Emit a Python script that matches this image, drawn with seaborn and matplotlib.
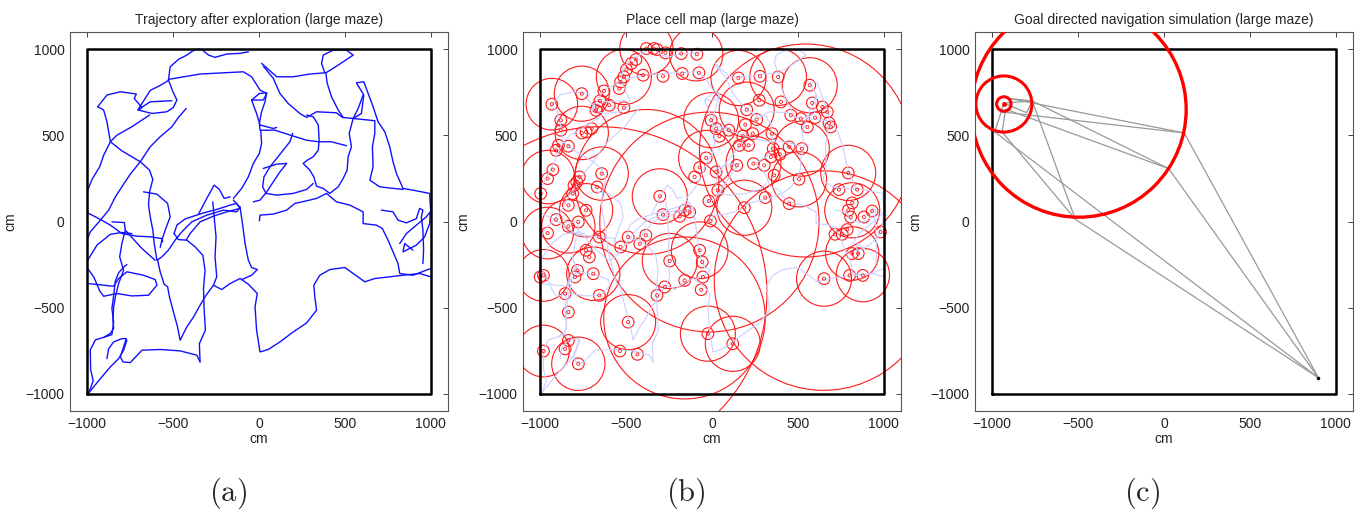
import numpy as np
import pandas as pd
import matplotlib
matplotlib.use("Agg")
import matplotlib.pyplot as plt
from matplotlib.patches import Circle
import seaborn as sns

sns.set_style("white")
plt.rcParams['font.family'] = ['Liberation Sans', 'DejaVu Sans']
plt.rcParams['mathtext.fontset'] = 'cm'

# maze boundary (cm)
MAZE_X = [-1000, 1000, 1000, -1000, -1000]
MAZE_Y = [-1000, -1000, 1000, 1000, -1000]
TICKS = [-1000, -500, 0, 500, 1000]

# ── exploration trajectory, traced as strokes (cm) ───────────────────────────
TRAJ_1 = [(-939, 666), (-885, 734), (-807, 753), (-714, 740), (-726, 714), (-681, 662), (-701, 647),
          (-623, 627), (-536, 637), (-498, 662), (-478, 705), (-501, 753), (-527, 821), (-517, 898),
          (-469, 941), (-420, 966), (-372, 999), (-333, 999), (-294, 966), (-256, 953), (-188, 972),
          (-110, 976), (-62, 985)]
TRAJ_2 = [(-527, 825), (-343, 856), (-91, 869), (-43, 840), (6, 763), (45, 743), (25, 705), (-43, 705),
          (-14, 627), (6, 560), (83, 540), (103, 546)]
TRAJ_3 = [(-939, 666), (-904, 647), (-885, 579), (-875, 521), (-865, 463), (-798, 410), (-691, 347),
          (-637, 298), (-618, 244), (-637, 172), (-643, 95), (-633, 27), (-618, -50), (-610, -128),
          (-594, -225), (-565, -205), (-527, -166), (-488, -108), (-449, -60), (-391, -2), (-304, 37),
          (-207, 66), (-130, 56), (-110, 85)]
TRAJ_4 = [(-424, 656), (-469, 604), (-507, 550), (-575, 492), (-633, 434), (-691, 347), (-749, 275),
          (-788, 217), (-836, 143), (-875, 66), (-923, 8), (-982, -60), (-997, -99)]
TRAJ_5 = [(-637, 618), (-740, 550), (-827, 501), (-865, 463), (-904, 385), (-927, 318), (-972, 244),
          (-997, 182)]
TRAJ_6 = [(-997, 50), (-923, 12), (-865, -21), (-798, -70), (-711, -85), (-633, -89), (-565, -99),
          (-560, -118)]
TRAJ_7 = [(-997, -225), (-943, -137), (-865, -74), (-798, -64), (-740, -70)]
TRAJ_8 = [(-997, -360), (-846, -376), (-817, -331), (-769, -292), (-672, -312), (-604, -337),
          (-594, -370), (-643, -428), (-740, -432), (-827, -418), (-904, -434), (-927, -403),
          (-962, -321), (-997, -273)]
TRAJ_9 = [(-856, -2), (-784, -6), (-778, -50), (-798, -128), (-811, -205), (-788, -283), (-817, -360),
          (-836, -438), (-846, -496), (-850, -573), (-846, -620), (-865, -650), (-900, -670)]
TRAJ_10 = [(-672, 172), (-594, 159), (-532, 105), (-517, 27), (-546, -50), (-565, -108), (-575, -150)]
TRAJ_11 = [(-590, -225), (-575, -292), (-552, -364), (-532, -379), (-521, -438), (-498, -525),
           (-474, -612), (-459, -689), (-420, -612), (-381, -554), (-343, -486), (-308, -428),
           (-265, -370)]
TRAJ_12 = [(-420, -108), (-372, -147), (-327, -196), (-314, -283), (-323, -389), (-320, -496),
           (-312, -631), (-347, -709), (-343, -815)]
TRAJ_13 = [(-885, -796), (-875, -738), (-846, -699), (-798, -680), (-772, -680), (-788, -728),
           (-807, -786), (-792, -815), (-749, -819), (-681, -747), (-575, -743), (-459, -751),
           (-362, -776), (-343, -815)]
TRAJ_14 = [(-991, -995), (-923, -912), (-865, -844), (-817, -796), (-788, -747), (-769, -689)]
TRAJ_15 = [(-991, -995), (-965, -925), (-980, -860), (-982, -745), (-952, -687), (-895, -670),
           (-856, -656), (-846, -585), (-856, -505), (-846, -430), (-836, -345), (-817, -298),
           (-788, -265), (-769, -250)]
TRAJ_16 = [(-265, -370), (-217, -395), (-168, -360), (-110, -331), (-62, -364), (-10, -418),
           (-23, -496), (-14, -631), (6, -757), (54, -743), (122, -699), (199, -641), (277, -589),
           (335, -515), (325, -438), (319, -370), (354, -312), (412, -279), (500, -267), (548, -302),
           (616, -350), (674, -331), (761, -321), (838, -312), (935, -302), (999, -321)]
TRAJ_17 = [(-149, 124), (-110, 81), (-95, -21), (-81, -128), (-62, -225), (-43, -267), (-10, -279),
           (-43, -312), (-101, -337)]
TRAJ_18 = [(-494, -70), (-478, -21), (-430, 15), (-381, 31), (-323, 50), (-246, 70), (-168, 95),
           (-130, 105), (-110, 76), (-188, 56), (-265, 31), (-343, -2), (-401, -70), (-424, -108),
           (-469, -105), (-494, -70)]
TRAJ_19 = [(-352, 43), (-304, 134), (-261, 211), (-230, 186), (-203, 134), (-168, 143)]
TRAJ_20 = [(-269, 114), (-261, 27), (-250, -89), (-256, -205), (-246, -321), (-265, -370)]
TRAJ_21 = [(10, 530), (15, 453), (2, 395), (-33, 337), (-62, 259), (-101, 192), (-149, 134)]
TRAJ_22 = [(15, 918), (103, 840), (199, 840), (296, 856), (383, 863), (364, 918), (374, 966),
           (432, 995), (509, 995), (548, 966), (490, 927), (422, 883), (389, 863), (397, 802),
           (422, 724), (461, 647), (490, 604)]
TRAJ_23 = [(25, 902), (83, 831), (122, 743), (170, 685), (238, 627), (277, 604), (335, 637),
           (451, 631), (486, 604), (548, 598), (596, 627), (610, 734), (567, 805), (610, 811),
           (664, 666), (693, 579), (732, 521), (761, 434), (780, 347), (800, 279), (838, 192),
           (896, 182), (993, 163), (999, 66)]
TRAJ_24 = [(606, 734), (577, 656), (548, 598), (525, 511), (538, 434), (519, 376), (513, 298),
           (490, 250), (461, 201), (412, 163), (374, 192), (335, 205), (319, 259), (296, 298),
           (257, 337), (281, 356), (316, 376), (345, 414), (350, 472), (345, 560), (316, 608),
           (277, 618)]
TRAJ_25 = [(548, 598), (674, 585), (674, 511), (660, 434), (664, 318), (645, 240), (703, 201),
           (838, 186)]
TRAJ_26 = [(-43, 705), (2, 743), (45, 747), (35, 695), (15, 637), (2, 569), (6, 530), (93, 530),
           (199, 496), (277, 472), (345, 463), (420, 463), (509, 440)]
TRAJ_27 = [(196, 511), (180, 463), (141, 414), (103, 366), (64, 318), (29, 259), (21, 201),
           (41, 163), (103, 153), (199, 163), (277, 186), (316, 221)]
TRAJ_28 = [(25, 308), (103, 333), (161, 337), (122, 288), (83, 230), (45, 172), (6, 124), (-33, 114)]
TRAJ_29 = [(2, 4), (6, 37), (83, 43), (161, 66), (209, 105), (277, 120), (335, 134), (393, 163),
           (451, 114), (529, 95), (606, 56), (606, -12), (683, -21), (718, -41), (751, -108),
           (780, -176), (809, -244), (819, -302), (896, -312), (999, -273)]
TRAJ_30 = [(712, 66), (780, 56), (809, 8), (858, -8), (916, 17), (935, 76), (954, 66), (945, 27),
           (954, -50), (958, -166), (954, -244)]
TRAJ_31 = [(819, -128), (858, -70), (916, -21), (974, 27), (997, 56), (993, -12), (964, -89),
           (916, -137), (858, -166), (838, -176), (848, -128), (896, -166)]
TRAJ_32 = [(-701, 654), (-633, 761), (-575, 790), (-527, 819)]
TRAJ_33 = [(-707, 647), (-633, 695), (-507, 701)]
TRAJ_34 = [(-778, -50), (-691, -147), (-649, -186), (-604, -225)]

TRAJ_STROKES = [TRAJ_1, TRAJ_2, TRAJ_3, TRAJ_4, TRAJ_5, TRAJ_6, TRAJ_7, TRAJ_8, TRAJ_9, TRAJ_10,
                TRAJ_11, TRAJ_12, TRAJ_13, TRAJ_14, TRAJ_15, TRAJ_16, TRAJ_17, TRAJ_18, TRAJ_19,
                TRAJ_20, TRAJ_21, TRAJ_22, TRAJ_23, TRAJ_24, TRAJ_25, TRAJ_26, TRAJ_27, TRAJ_28,
                TRAJ_29, TRAJ_30, TRAJ_31, TRAJ_32, TRAJ_33, TRAJ_34]

# ── place cells (cm) ──────────────────────────────────────────────────────────
PC_X = [-382, -339, -320, -271, -179, -88, -285, -173, -76, -401, -443, -469, -498, -513, -532, -540,
        -513, -598, -652, -629, -668, -675, -758, -932, -880, -880, -894, -907, -836, -758, -733, -700,
        -926, -957, -997, -772, -787, -803, -811, -668, -642, -733, -778, -836, -907, -957, -836, -656,
        -733, -714, -691, -656, -783, -797, -855, -836, -981, -1000, -488, -536, -434, -778, -981, -855,
        -836, -488, -532, -420, -385, -304, -285, -188, -159, -130, -101, -72, -34, -18, -9, 24, 34,
        -72, -57, -53, -63, -159, -246, -275, -320, -24, 121, -5, 24, 43, 98, 154, 279, 385, 202, 275,
        260, 194, 179, 237, 213, 159, 144, 241, 304, 362, 349, 356, 343, 401, 569, 584, 642, 671, 681,
        691, 459, 517, 555, 600, 523, 449, 395, 310, 188, 507, 449, 793, 739, 845, 816, 793, 807, 884,
        932, 981, 758, 716, 787, 816, 851, 652, 801, 878]
PC_Y = [1004, 1004, 998, 979, 975, 971, 843, 859, 863, 849, 940, 917, 882, 839, 810, 772, 661, 675,
        700, 758, 665, 646, 742, 681, 588, 530, 442, 413, 437, 514, 520, 539, 301, 249, 162, 259, 229,
        210, 162, 200, 278, 65, -3, 94, 11, -67, -28, -90, -167, -206, -303, -429, -284, -322, -419,
        -526, -313, -322, -584, -752, -771, -826, -752, -739, -690, -90, -148, -129, -80, 146, 40, 30,
        65, 55, 259, 313, 369, 119, 3, 288, 181, -167, -235, -322, -396, -342, -229, -380, -429, -651,
        -710, 588, 539, 495, 530, 833, 843, 839, 649, 704, 592, 562, 495, 510, 442, 442, 326, 336, 326,
        268, 510, 423, 375, 694, 791, 688, 665, 636, 572, 549, 617, 597, 549, 603, 423, 433, 390, 139,
        80, 245, 104, 282, 185, 185, 108, 65, 26, 26, 61, -61, -74, -74, -47, -186, -186, -332, -313,
        -313]
INNER_R = 34

MED_X = [-932, -758, -758, -513, -382, -92, -955, -642, -733, -957, -691, -981, -778, -981, -488,
         -304, -246, -72, -24, 121, -34, -5, 154, 385, 202, 569, 523, 241, 507, 793, 816, 816, 652,
         188, -836, 878]
MED_Y = [681, 742, 514, 839, 1004, 971, 258, 278, 65, -67, -303, -313, -826, -752, -584, 146, -229,
         -167, -651, -710, 369, 588, 833, 839, 649, 791, 423, 336, 245, 282, 65, -186, -332, 80, -28,
         -311]
MED_R = [150, 160, 155, 160, 155, 155, 155, 155, 155, 150, 155, 150, 155, 150, 160, 160, 160, 165, 160,
         160, 160, 160, 160, 165, 160, 160, 160, 160, 160, 160, 160, 155, 160, 160, 155, 155]

BIG_X = [-15, 545, 650, -650, -160, -380]
BIG_Y = [-3, 412, -343, -420, -560, 230]
BIG_R = [638, 618, 637, 970, 470, 420]

# ── goal directed navigation (cm) ─────────────────────────────────────────────
GOAL_X, GOAL_Y = -932, 682
GOAL_RINGS = [42, 163]
SCALE_X, SCALE_Y, SCALE_R = -496, 650, 625
NAV_EDGES = [((899, -907), (118, 514)), ((899, -907), (27, 307)), ((899, -907), (-516, 13)),
             ((899, -907), (-985, 520)), ((118, 514), (-893, 713)), ((118, 514), (-942, 636)),
             ((27, 307), (-767, 700)), ((27, 307), (-922, 652)), ((-516, 13), (-767, 700)),
             ((-516, 13), (-942, 520)), ((-985, 520), (-932, 687)), ((-942, 520), (-922, 652)),
             ((-893, 713), (-767, 700)), ((-767, 700), (-800, 632)), ((-800, 632), (-932, 687)),
             ((-767, 700), (-932, 687))]
START_X, START_Y = 899, -907


def style_axes(ax, title):
    ax.set_xlim(-1100, 1100)
    ax.set_ylim(-1100, 1100)
    ax.set_xticks(TICKS)
    ax.set_yticks(TICKS)
    ax.tick_params(direction='in', top=True, right=True, length=3.5, width=0.6,
                   labelsize=10, colors='#222222', pad=4)
    for sp in ax.spines.values():
        sp.set_color('#555555')
        sp.set_linewidth(0.8)
    ax.set_xlabel('cm', fontsize=10, labelpad=1)
    ax.set_ylabel('cm', fontsize=10, labelpad=6)
    ax.set_title(title, fontsize=10, pad=6)
    ax.plot(MAZE_X, MAZE_Y, color='black', lw=1.8, zorder=5)


def traj_frame():
    rows = []
    for i, stroke in enumerate(TRAJ_STROKES):
        for x, y in stroke:
            rows.append((i, x, y))
    return pd.DataFrame(rows, columns=['stroke', 'x', 'y'])


fig = plt.figure(figsize=(13.71, 5.18), dpi=100)
pos_h, pos_b = 379 / 518, 1 - 411 / 518
w = 378 / 1371
ax_a = fig.add_axes([70 / 1371, pos_b, w, pos_h])
ax_b = fig.add_axes([523 / 1371, pos_b, w, pos_h])
ax_c = fig.add_axes([975 / 1371, pos_b, w, pos_h])

traj = traj_frame()

# (a) trajectory
sns.lineplot(data=traj, x='x', y='y', units='stroke', estimator=None, sort=False,
             color='#1010ff', lw=1.0, ax=ax_a)
style_axes(ax_a, 'Trajectory after exploration (large maze)')

# (b) place cell map
sns.lineplot(data=traj, x='x', y='y', units='stroke', estimator=None, sort=False,
             color='#c9d0ff', lw=0.8, ax=ax_b)
for x, y in zip(PC_X, PC_Y):
    ax_b.add_patch(Circle((x, y), INNER_R, fill=False, ec='#ff1a1a', lw=0.8))
for x, y, r in zip(MED_X, MED_Y, MED_R):
    ax_b.add_patch(Circle((x, y), r, fill=False, ec='#ff1a1a', lw=0.8))
for x, y, r in zip(BIG_X, BIG_Y, BIG_R):
    ax_b.add_patch(Circle((x, y), r, fill=False, ec='#ff1a1a', lw=0.8))
sns.scatterplot(x=PC_X, y=PC_Y, marker='o', s=5, color='none', edgecolor='#ff1a1a',
                linewidth=0.6, ax=ax_b, zorder=4)
style_axes(ax_b, 'Place cell map (large maze)')

# (c) goal directed navigation
for (x0, y0), (x1, y1) in NAV_EDGES:
    sns.lineplot(x=[x0, x1], y=[y0, y1], color='#999999', lw=0.9, sort=False,
                 estimator=None, ax=ax_c)
for r in GOAL_RINGS:
    ax_c.add_patch(Circle((GOAL_X, GOAL_Y), r, fill=False, ec='red', lw=2.2, zorder=6))
ax_c.add_patch(Circle((SCALE_X, SCALE_Y), SCALE_R, fill=False, ec='red', lw=2.4, zorder=6))
ax_c.plot([GOAL_X], [GOAL_Y], 'o', color='red', ms=2.5, zorder=7)
ax_c.plot([START_X], [START_Y], 'o', color='black', ms=1.5, zorder=7)
style_axes(ax_c, 'Goal directed navigation simulation (large maze)')

for xc, lab in zip([1 / 6, 1 / 2, 5 / 6], ['a', 'b', 'c']):
    fig.text(xc, 0.048, r'$\mathrm{(' + lab + ')}$', ha='center', va='center', fontsize=22)

fig.savefig('out.png', dpi=100)
